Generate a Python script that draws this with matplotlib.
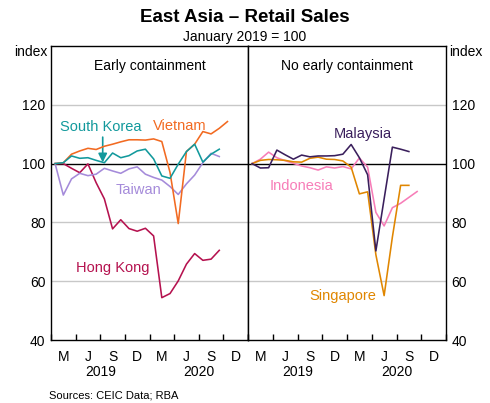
# East Asia retail sales, two panels (early containment / no early containment)
import numpy as np
import matplotlib
matplotlib.use('Agg')
import matplotlib.pyplot as plt
from matplotlib.transforms import blended_transform_factory

plt.rcParams['font.family'] = ['Liberation Sans', 'DejaVu Sans']

# monthly index, January 2019 = 100 (first value is Jan 2019)
vietnam = [100, 100.3, 103.2, 104.3, 105.2, 104.8, 105.9, 106.6, 107.4, 108.1, 108.1,
           108.0, 108.4, 107.5, 97.0, 79.6, 104.1, 106.6, 110.9, 110.1, 112.0, 114.3]
south_korea = [100, 100.3, 102.6, 101.8, 102.0, 101.1, 100.3, 103.6, 102.0, 102.7, 104.3,
               104.9, 101.6, 95.8, 95.0, 99.8, 104.1, 106.6, 100.5, 103.2, 104.9]
taiwan = [100, 89.3, 94.8, 96.7, 95.9, 96.4, 98.4, 97.5, 96.7, 98.2, 98.9,
          96.4, 95.3, 94.4, 92.2, 89.5, 93.1, 96.1, 100.3, 103.5, 102.4]
hong_kong = [100, 100, 98.4, 96.9, 99.9, 93.5, 88.0, 77.8, 80.9, 77.9, 77.0,
             78.0, 75.4, 54.4, 55.8, 60.1, 65.8, 69.4, 67.1, 67.5, 70.5]

malaysia = [100, 98.5, 98.6, 104.6, 103.0, 101.5, 102.9, 102.3, 102.6, 102.6, 102.7,
            103.2, 106.5, 102.0, 96.2, 70.3, 88.0, 105.6, 104.9, 104.1]
indonesia = [100, 101.5, 103.9, 102.0, 101.0, 100.1, 99.2, 98.6, 97.8, 98.9, 98.5,
             99.0, 98.2, 101.9, 98.8, 83.4, 78.8, 85.0, 86.5, 88.5, 90.5]
singapore = [100, 101.1, 101.4, 101.3, 101.1, 100.6, 100.5, 101.8, 102.2, 101.5, 101.4,
             100.9, 98.8, 89.7, 90.4, 69.0, 55.1, 75.0, 92.6, 92.6]

quarter_labels = ['M', 'J', 'S', 'D', 'M', 'J', 'S', 'D']
years = ['2019', '2020']
y_ticks = [40, 60, 80, 100, 120]

C_VN = '#F26A21'
C_KR = '#12999C'
C_TW = '#A58BDA'
C_HK = '#B5124F'
C_MY = '#3A1F5C'
C_ID = '#F77DB8'
C_SG = '#E08600'


def months(series):
    return np.arange(len(series)) + 0.5


def setup_panel(ax, title, side):
    ax.set_xlim(0, 24)
    ax.set_ylim(40, 140)
    for v in [60, 80, 120]:
        ax.axhline(v, color='#c8c8c8', lw=1, zorder=1)
    ax.axhline(100, color='black', lw=1, zorder=1)
    for sp in ax.spines.values():
        sp.set_linewidth(1)
        sp.set_color('black')

    ax.set_xticks(np.arange(0, 25, 3))
    ax.set_xticklabels([])
    ax.set_xticks(np.arange(1.5, 24, 3), minor=True)
    ax.set_xticklabels(quarter_labels, minor=True)
    ax.tick_params(axis='x', which='major', direction='in', length=4, width=1)
    ax.tick_params(axis='x', which='minor', length=0, pad=7, labelsize=10)

    ax.set_yticks(y_ticks)
    if side == 'left':
        ax.yaxis.tick_left()
    else:
        ax.yaxis.tick_right()
    ax.tick_params(axis='y', length=0, pad=4, labelsize=10)

    trans = blended_transform_factory(ax.transData, ax.transAxes)
    for k, yr in enumerate(years):
        ax.text(6 + 12 * k, -0.11, yr, transform=trans, ha='center', va='center', fontsize=10)

    ax.text(0.5, 0.932, title, transform=ax.transAxes, ha='center', va='center', fontsize=10)


fig = plt.figure(figsize=(4.9, 4.03), dpi=100)
ax1 = fig.add_axes([51 / 490, 63 / 403, 197 / 490, 294 / 403])
ax2 = fig.add_axes([248 / 490, 63 / 403, 198 / 490, 294 / 403])

setup_panel(ax1, 'Early containment', 'left')
setup_panel(ax2, 'No early containment', 'right')

lw = 1.15
ax1.plot(months(hong_kong), hong_kong, color=C_HK, lw=lw, zorder=3)
ax1.plot(months(taiwan), taiwan, color=C_TW, lw=lw, zorder=3)
ax1.plot(months(vietnam), vietnam, color=C_VN, lw=lw, zorder=4)
ax1.plot(months(south_korea), south_korea, color=C_KR, lw=lw, zorder=5)

ax2.plot(months(indonesia), indonesia, color=C_ID, lw=lw, zorder=3)
ax2.plot(months(singapore), singapore, color=C_SG, lw=lw, zorder=4)
ax2.plot(months(malaysia), malaysia, color=C_MY, lw=lw, zorder=5)

fs = 10.5
ax1.text(6.0, 112.4, 'South Korea', color=C_KR, ha='center', va='center', fontsize=fs)
ax1.annotate('', xy=(6.3, 100.4), xytext=(6.3, 109.0),
             arrowprops=dict(arrowstyle='-|>', color=C_KR, lw=1.2, mutation_scale=13,
                             shrinkA=0, shrinkB=0))
ax1.text(15.7, 112.8, 'Vietnam', color=C_VN, ha='center', va='center', fontsize=fs)
ax1.text(10.6, 91.0, 'Taiwan', color=C_TW, ha='center', va='center', fontsize=fs)
ax1.text(7.55, 64.5, 'Hong Kong', color=C_HK, ha='center', va='center', fontsize=fs)

ax2.text(13.9, 110.0, 'Malaysia', color=C_MY, ha='center', va='center', fontsize=fs)
ax2.text(6.5, 92.4, 'Indonesia', color=C_ID, ha='center', va='center', fontsize=fs)
ax2.text(11.5, 55.0, 'Singapore', color=C_SG, ha='center', va='center', fontsize=fs)

fig.text(0.5, 1 - 17 / 403, 'East Asia \u2013 Retail Sales', ha='center', va='center',
         fontsize=13.5, fontweight='bold')
fig.text(0.5, 1 - 37 / 403, 'January 2019 = 100', ha='center', va='center', fontsize=10)
fig.text(47 / 490, 1 - 52 / 403, 'index', ha='right', va='center', fontsize=10)
fig.text(449 / 490, 1 - 52 / 403, 'index', ha='left', va='center', fontsize=10)
fig.text(49 / 490, 1 - 395 / 403, 'Sources: CEIC Data; RBA', ha='left', va='center', fontsize=8)

fig.savefig('out.png', dpi=100)
